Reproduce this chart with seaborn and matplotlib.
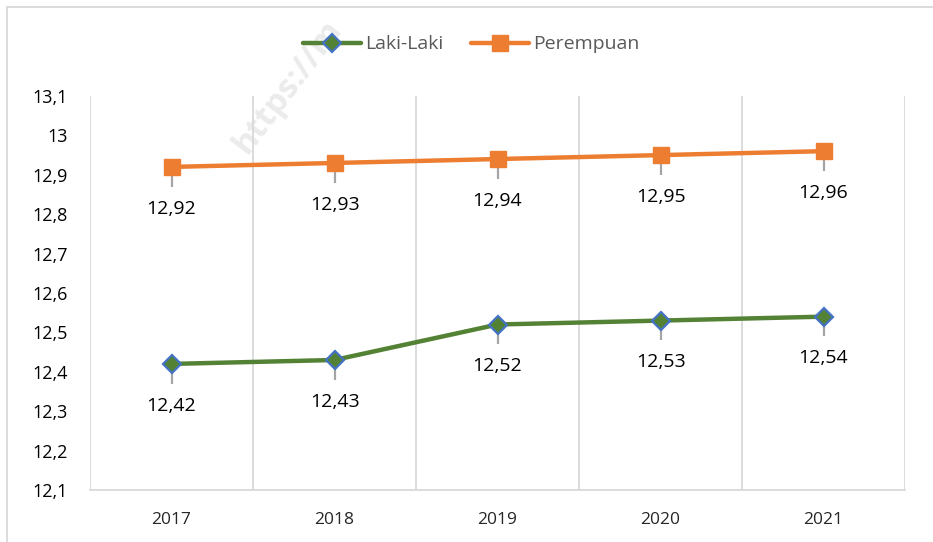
import matplotlib
matplotlib.use("Agg")
import matplotlib.pyplot as plt
import seaborn as sns
import numpy as np
import pandas as pd
from matplotlib.patches import Rectangle

years = ["2017", "2018", "2019", "2020", "2021"]
laki_laki = [12.42, 12.43, 12.52, 12.53, 12.54]
perempuan = [12.92, 12.93, 12.94, 12.95, 12.96]
error_down = [0.05, 0.05, 0.05, 0.05, 0.05]
y_ticks = [12.1, 12.2, 12.3, 12.4, 12.5, 12.6, 12.7, 12.8, 12.9, 13.0, 13.1]

GREEN = "#548235"
ORANGE = "#ED7D31"
BLUE = "#4472C4"
GRID = "#D9D9D9"
ERR = "#A5A5A5"

sns.set_theme(style="white")
plt.rcParams["font.family"] = ["Open Sans", "DejaVu Sans"]

pos = np.arange(len(years))
df_l = pd.DataFrame({"pos": pos, "val": laki_laki})
df_p = pd.DataFrame({"pos": pos, "val": perempuan})

fig = plt.figure(figsize=(9.33, 5.42), dpi=100)
ax = fig.add_axes([90 / 933, 52 / 542, 815 / 933, 394 / 542])
ax.patch.set_alpha(0)

# downward-only error whiskers
for vals in (laki_laki, perempuan):
    ax.errorbar(pos, vals, yerr=[error_down, [0] * len(vals)], fmt="none",
                ecolor=ERR, elinewidth=1.6, capsize=0, zorder=2)

sns.lineplot(data=df_l, x="pos", y="val", ax=ax, color=GREEN, linewidth=3.2,
             marker="D", markersize=9, markerfacecolor=GREEN,
             markeredgecolor=BLUE, markeredgewidth=1.6, label="Laki-Laki",
             zorder=3)
sns.lineplot(data=df_p, x="pos", y="val", ax=ax, color=ORANGE, linewidth=3.2,
             marker="s", markersize=11, markerfacecolor=ORANGE,
             markeredgecolor=ORANGE, markeredgewidth=1, label="Perempuan",
             zorder=3)

def fmt(v):
    s = f"{v:.2f}".rstrip("0").rstrip(".")
    return s.replace(".", ",")

for vals in (laki_laki, perempuan):
    for x, v in zip(pos, vals):
        ax.annotate(fmt(v), (x, v), xytext=(0, -30), textcoords="offset points",
                    ha="center", va="center", fontsize=14, color="#000000")

ax.set_xlim(-0.5, len(years) - 0.5)
ax.set_ylim(12.1, 13.1)
ax.set_xticks(pos)
ax.set_xticklabels(years, fontsize=12.5, color="#262626")
ax.set_yticks(y_ticks)
ax.set_yticklabels([fmt(t) for t in y_ticks], fontsize=13, color="#000000")
ax.set_xticks(np.arange(-0.5, len(years), 1), minor=True)
ax.grid(False)
ax.grid(which="minor", axis="x", color=GRID, linewidth=1.3)
ax.tick_params(axis="both", which="both", length=0)
ax.tick_params(axis="y", pad=16)
ax.tick_params(axis="x", pad=16)
ax.set_xlabel("")
ax.set_ylabel("")
for side in ("left", "top", "right"):
    ax.spines[side].set_visible(False)
ax.spines["bottom"].set_color(GRID)
ax.spines["bottom"].set_linewidth(1.3)

ax.legend(loc="center", bbox_to_anchor=(0.505, 0.918), bbox_transform=fig.transFigure,
          ncol=2, frameon=False, fontsize=14, handlelength=3.0, columnspacing=1.4,
          handletextpad=0.2, labelcolor="#595959")

# outer chart frame
fig.patches.append(Rectangle((7 / 933, -0.05), 1.2, 0.987 + 0.05,
                             transform=fig.transFigure, fill=False,
                             edgecolor=GRID, linewidth=1.3, zorder=-2))

# light watermark behind the chart content
fig.text(0.243, 0.705, "https://m", rotation=53, fontsize=24, fontweight="bold",
         color="#EBEBEB", ha="left", va="bottom", zorder=-1)

fig.savefig("out.png", dpi=100)
